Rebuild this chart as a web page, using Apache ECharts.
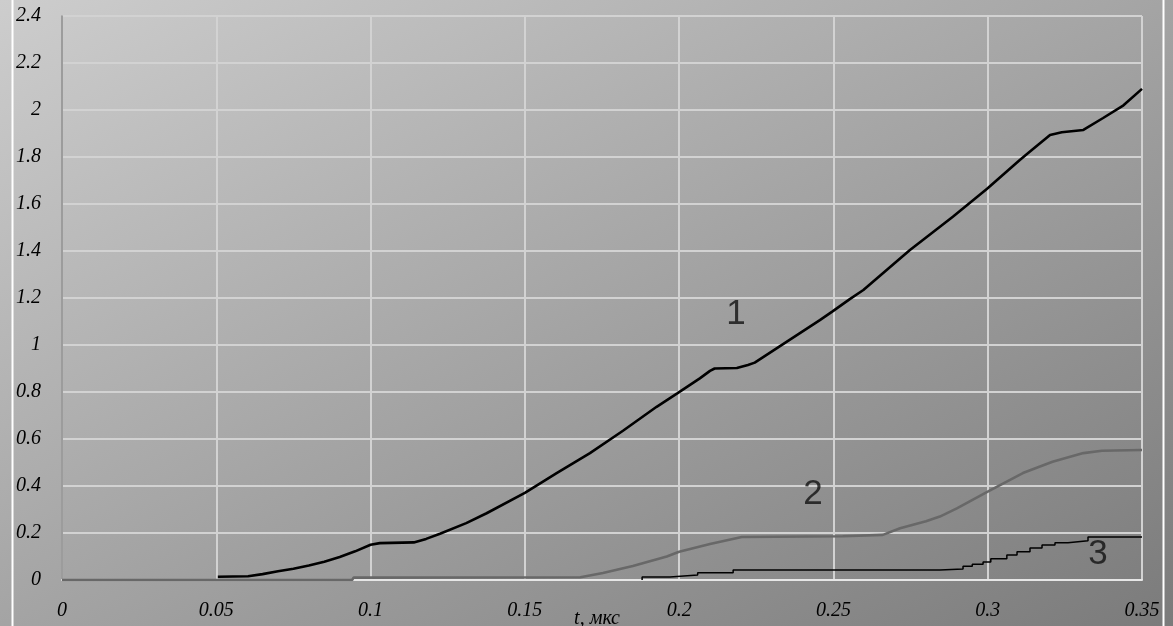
<!DOCTYPE html>
<html><head><meta charset="utf-8">
<script src="https://cdn.jsdelivr.net/npm/echarts@6/dist/echarts.min.js"></script>
<style>html,body{margin:0;padding:0;background:#fff;}#c{width:1173px;height:626px;}</style>
</head><body><div id="c"></div>
<script>
// ---- data (t in мкс) ----
const curve1 = [
  [0.0505,0.014],[0.0603,0.016],[0.065,0.025],[0.070,0.037],[0.075,0.048],[0.080,0.062],
  [0.085,0.078],[0.090,0.098],[0.095,0.122],[0.100,0.150],[0.103,0.157],[0.114,0.160],
  [0.118,0.175],[0.1225,0.197],[0.131,0.242],[0.1376,0.284],[0.150,0.371],[0.1603,0.455],
  [0.1711,0.540],[0.1818,0.635],[0.1927,0.737],[0.1995,0.795],[0.2067,0.858],[0.210,0.890],
  [0.2115,0.900],[0.2187,0.902],[0.2223,0.915],[0.2245,0.925],[0.2456,1.106],[0.2496,1.142],
  [0.2553,1.195],[0.2597,1.234],[0.2748,1.404],[0.2887,1.546],[0.2998,1.665],[0.3104,1.787],
  [0.3137,1.823],[0.3202,1.894],[0.3240,1.905],[0.331,1.915],[0.3374,1.966],[0.344,2.020],
  [0.350,2.090]
];
const curve2 = [
  [0,0],[0.094,0],[0.0945,0.010],[0.168,0.012],[0.1753,0.030],[0.185,0.060],[0.196,0.100],
  [0.200,0.120],[0.210,0.153],[0.2203,0.183],[0.253,0.186],[0.266,0.192],[0.2716,0.220],
  [0.280,0.250],[0.2845,0.270],[0.290,0.305],[0.300,0.376],[0.3114,0.455],[0.321,0.503],
  [0.331,0.540],[0.337,0.550],[0.350,0.553]
];
const curve3 = [
  [0.188,0],[0.188,0.013],[0.197,0.021],[0.206,0.031],[0.2175,0.043],[0.2845,0.047],
  [0.292,0.058],[0.295,0.067],[0.2985,0.077],[0.301,0.090],[0.3062,0.106],[0.3095,0.120],
  [0.3137,0.136],[0.3176,0.149],[0.3218,0.159],[0.326,0.167],[0.3325,0.183],[0.350,0.184]
];
const curveNames = ['1','2','3'];
const curveLabelAt = [[0.2184,1.132],[0.2434,0.364],[0.3357,0.111]];
const xAxisName = 't, мкс';
const xMin = 0, xMax = 0.35, xStep = 0.05;
const yMin = 0, yMax = 2.4, yStep = 0.2;

const serif = '"Liberation Serif","DejaVu Serif",serif';
const tickLabel = {color:'#000', fontFamily:serif, fontStyle:'italic', fontSize:20};
const fmt = v => String(+v.toFixed(3));

const chart = echarts.init(document.getElementById('c'));
chart.setOption({
  animation:false,
  backgroundColor:{type:'linear', x:0, y:0, x2:520, y2:974, global:true,
    colorStops:[{offset:0,color:'#cdcdcd'},{offset:1,color:'#7b7b7b'}]},
  grid:{left:62, right:31, top:16, bottom:46, containLabel:false, outerBoundsMode:'none'},
  xAxis:{type:'value', min:xMin, max:xMax, interval:xStep,
    name:xAxisName, nameLocation:'middle', nameGap:29, nameMoveOverlap:false,
    nameTextStyle:{color:'#000', fontFamily:serif, fontStyle:'italic', fontSize:20, padding:[0,10,0,0]},
    axisLine:{show:true, onZero:false, lineStyle:{color:'#e6e6e6', width:2}},
    axisTick:{show:false},
    axisLabel:Object.assign({margin:21, formatter:fmt}, tickLabel),
    splitLine:{show:true, lineStyle:{color:'#d2d2d2', width:2}}
  },
  yAxis:{type:'value', min:yMin, max:yMax, interval:yStep,
    axisLine:{show:true, lineStyle:{color:'#8a8a8a', width:1.5}},
    axisTick:{show:false},
    axisLabel:Object.assign({margin:21, formatter:fmt}, tickLabel),
    splitLine:{show:true, lineStyle:{color:'#d2d2d2', width:2}}
  },
  series:[
    {type:'line', data:curve2, showSymbol:false, symbol:'none', z:3,
      lineStyle:{color:'#686868', width:2.6}},
    {type:'line', data:curve3, showSymbol:false, symbol:'none', step:'end', z:4,
      lineStyle:{color:'#000', width:1.5}},
    {type:'line', data:curve1, showSymbol:false, symbol:'none', z:5,
      lineStyle:{color:'#000', width:2.6}},
    {type:'scatter', z:6, symbolSize:1, itemStyle:{color:'transparent'},
      data:curveLabelAt.map((p,i)=>({value:p, name:curveNames[i]})),
      label:{show:true, position:'inside', formatter:'{b}', color:'#111',
        fontFamily:'"Liberation Sans",Arial,sans-serif', fontSize:35}}
  ],
  graphic:[
    {type:'line', shape:{x1:12.5,y1:0,x2:12.5,y2:626}, style:{stroke:'#ffffff', lineWidth:2}, z:10},
    {type:'line', shape:{x1:1163.5,y1:0,x2:1163.5,y2:626}, style:{stroke:'#ffffff', lineWidth:2}, z:10}
  ]
});
</script></body></html>
